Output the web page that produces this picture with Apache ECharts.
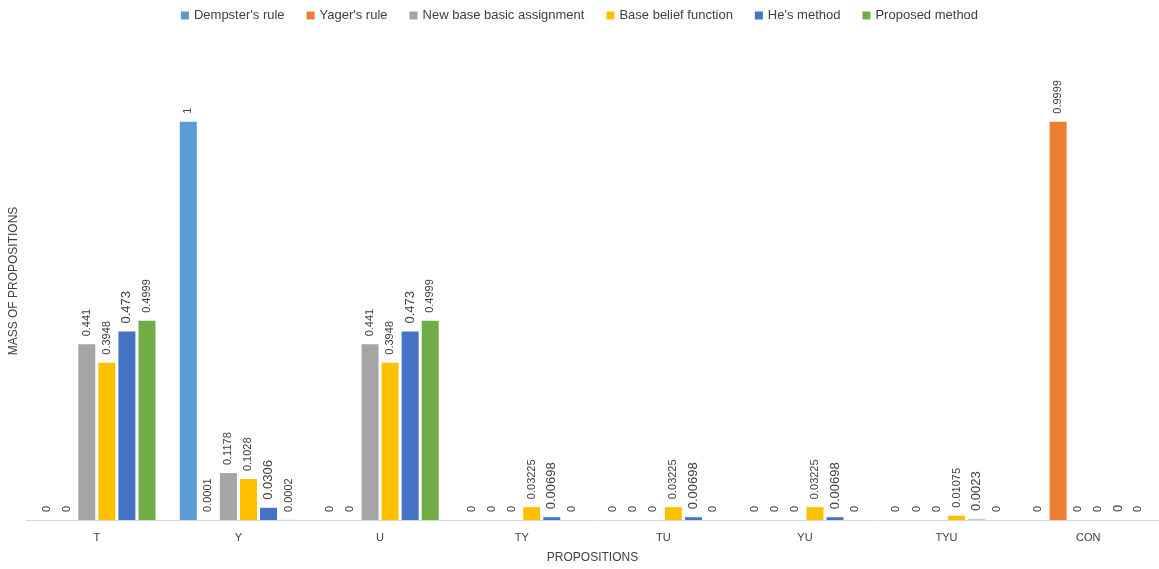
<!DOCTYPE html>
<html>
<head>
<meta charset="utf-8">
<script src="https://cdn.jsdelivr.net/npm/echarts@6/dist/echarts.min.js"></script>
<style>html,body{margin:0;padding:0;background:#fff}#c{width:1159px;height:569px}</style>
</head>
<body>
<div id="c"></div>
<script>
const categories = ["T", "Y", "U", "TY", "TU", "YU", "TYU", "CON"];
const seriesNames = ["Dempster's rule", "Yager's rule", "New base basic assignment", "Base belief function", "He's method", "Proposed method"];
const dempster = [0, 1, 0, 0, 0, 0, 0, 0];
const yager = [0, 0.0001, 0, 0, 0, 0, 0, 0.9999];
const newBase = [0.441, 0.1178, 0.441, 0, 0, 0, 0, 0];
const baseBelief = [0.3948, 0.1028, 0.3948, 0.03225, 0.03225, 0.03225, 0.01075, 0];
const hes = [0.473, 0.0306, 0.473, 0.00698, 0.00698, 0.00698, 0.0023, 0];
const proposed = [0.4999, 0.0002, 0.4999, 0, 0, 0, 0, 0];

const colors = ['#5B9BD5', '#ED7D31', '#A5A5A5', '#FFC000', '#4472C4', '#70AD47'];
const allData = [dempster, yager, newBase, baseBelief, hes, proposed];

const chart = echarts.init(document.getElementById('c'));
const series = allData.map((d, i) => ({
  name: seriesNames[i],
  type: 'bar',
  data: i === 4 ? d.map((v, j) => j === 6 ? {value: v, itemStyle: {color: '#B4C7E7'}} : v) : d,
  barWidth: 17,
  barGap: '18%',
  itemStyle: { color: colors[i] },
  label: {
    show: true,
    position: 'top',
    rotate: 90,
    align: 'left',
    verticalAlign: 'middle',
    distance: 8,
    color: '#404040',
    fontFamily: 'Liberation Sans, Arial, sans-serif',
    fontSize: i === 4 ? 13 : 11,
    formatter: p => String(p.value)
  }
}));

chart.setOption({
  animation: false,
  color: colors,
  legend: {
    top: 4,
    left: 'center',
    itemWidth: 8,
    itemHeight: 8,
    itemGap: 22,
    icon: 'rect',
    textStyle: { color: '#404040', fontSize: 13, fontFamily: 'Liberation Sans Narrow, Liberation Sans, Arial, sans-serif' },
    data: seriesNames
  },
  grid: { left: 20, right: -2, top: 42, bottom: 49, containLabel: false },
  xAxis: {
    type: 'category',
    data: categories,
    name: 'PROPOSITIONS',
    nameLocation: 'middle',
    nameGap: 32,
    nameTextStyle: { color: '#404040', fontSize: 12, fontFamily: 'Liberation Sans, Arial, sans-serif' },
    axisLine: { lineStyle: { color: '#D9D9D9', width: 1 } },
    axisTick: { show: false },
    axisLabel: { color: '#404040', fontSize: 11, margin: 12, fontFamily: 'Liberation Sans, Arial, sans-serif' }
  },
  yAxis: {
    type: 'value',
    min: 0,
    max: 1.2,
    name: 'MASS OF PROPOSITIONS',
    nameLocation: 'middle',
    nameGap: 6,
    nameRotate: 90,
    nameTextStyle: { color: '#404040', fontSize: 12, fontFamily: 'Liberation Sans, Arial, sans-serif' },
    axisLine: { show: false },
    axisTick: { show: false },
    axisLabel: { show: false },
    splitLine: { show: false }
  },
  series: series
});
</script>
</body>
</html>
